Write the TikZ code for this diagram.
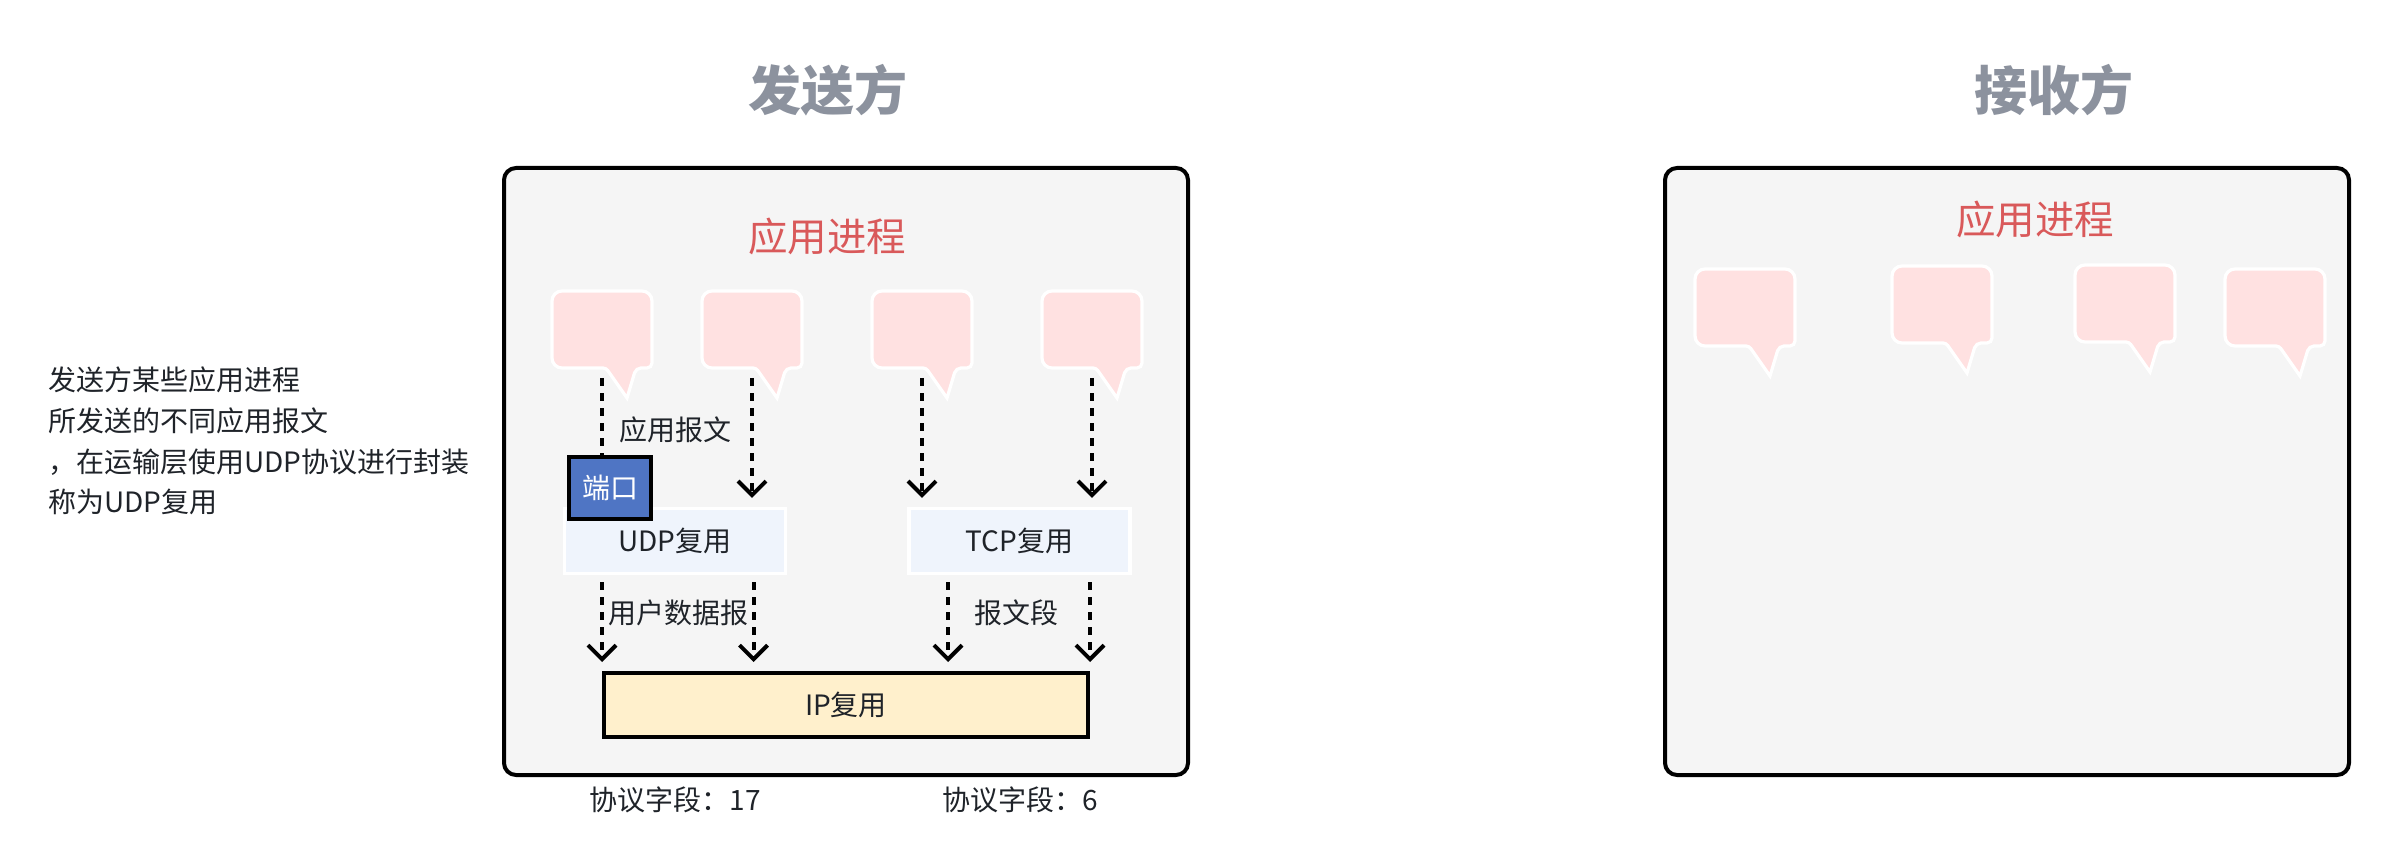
\documentclass[tikz,border=0pt]{standalone}
\usepackage{fontspec}
\setmainfont{Noto Sans CJK SC}
\usetikzlibrary{arrows.meta}
\definecolor{titlegray}{RGB}{140,146,158}
\definecolor{procred}{RGB}{217,89,90}
\definecolor{panelgray}{RGB}{245,245,245}
\definecolor{bubblepink}{RGB}{255,225,225}
\definecolor{muxblue}{RGB}{239,244,252}
\definecolor{portblue}{RGB}{79,117,196}
\definecolor{ipyellow}{RGB}{255,240,204}
\definecolor{inkdark}{RGB}{31,35,41}
\tikzset{
  panel/.style={draw=black,line width=2pt,fill=panelgray,rounded corners=6pt},
  bubble/.style={draw=white,line width=1.6pt,fill=bubblepink,line join=miter},
  muxbox/.style={draw=white,line width=1.6pt,fill=muxblue,inner sep=0pt,minimum width=110.5pt,minimum height=32.5pt},
  flow/.style={line width=2pt,dash pattern=on 4pt off 3.5pt,-{Straight Barb[width=14pt,length=7pt,line width=2pt]}},
  heading/.style={font=\fontsize{26.5}{30}\selectfont\bfseries,text=titlegray},
  proclabel/.style={font=\fontsize{19.75}{24}\selectfont,text=procred}
}
\begin{document}
\begin{tikzpicture}[x=0.5pt,y=-0.5pt,every node/.style={font=\fontsize{14}{17}\selectfont,text=inkdark}]
    \useasboundingbox (0,0) rectangle (2400,866);

    % ── Panels ───────────────────────────────────────────────────────
    \draw[panel] (504,168) rectangle (1188,775);
    \draw[panel] (1665,168) rectangle (2349,775);
    \node[heading] (sendtitle) at (827.5,90.5) {发送方};
    \node[heading] (recvtitle) at (2054,90.5) {接收方};
    \node[proclabel] (sendproc) at (827,236) {应用进程};
    \node[proclabel] (recvproc) at (2035,219) {应用进程};

    % ── Message bubbles ──────────────────────────────────────────────
    \foreach \bx/\by in {552/291,702/291,872/291,1042/291,1695/269,1892/266,2075/265,2225/269} {
      \draw[bubble,shift={(\bx,\by)}] (50,0) [rounded corners=5pt] -- (0,0) -- (0,77)
        [rounded corners=1.5pt] -- (54,77) [sharp corners] -- (75,107)
        [rounded corners=2.5pt] -- (84,77) -- (100,77) [rounded corners=5pt] -- (100,0) -- cycle;
    }

    % ── Multiplexing boxes ───────────────────────────────────────────
    \node[muxbox] (udp) at (675,541) {UDP复用};
    \node[muxbox] (tcp) at (1019.5,541) {TCP复用};
    \node[draw=black,line width=2pt,fill=portblue,text=white,inner sep=0pt,minimum width=41pt,minimum height=31pt] (port) at (610,487.5) {端口};
    \node[draw=black,line width=2pt,fill=ipyellow,inner sep=0pt,minimum width=242pt,minimum height=32pt] (ip) at (846,705) {IP复用};

    % ── Connectors ───────────────────────────────────────────────────
    \coordinate (app1) at (602,378);
    \coordinate (app2) at (752,378);
    \coordinate (app3) at (922,378);
    \coordinate (app4) at (1092,378);
    \coordinate (udpl) at (602,582);
    \coordinate (udpr) at (753.5,582);
    \coordinate (tcpl) at (948,582);
    \coordinate (tcpr) at (1090,582);
    \draw[flow,-] (app1) -- (app1 |- port.north);
    \draw[flow,shorten >=4.5pt] (app2) -- (app2 |- udp.north);
    \draw[flow,shorten >=4.5pt] (app3) -- (app3 |- tcp.north);
    \draw[flow,shorten >=4.5pt] (app4) -- (app4 |- tcp.north);
    \foreach \from in {udpl,udpr,tcpl,tcpr} {
      \draw[flow,shorten >=4.5pt] (\from) -- (\from |- ip.north);
    }

    % ── Labels ───────────────────────────────────────────────────────
    \node (msglabel) at (675,429.5) {应用报文};
    \node (dgramlabel) at (678,613) {用户数据报};
    \node (seglabel) at (1016,613) {报文段};
    \node (udpfield) at (675,800) {协议字段：17};
    \node (tcpfield) at (1020,800) {协议字段：6};
    \node[anchor=west,inner sep=0pt] (note1) at (48,380) {发送方某些应用进程};
    \node[anchor=west,inner sep=0pt] (note2) at (48,421) {所发送的不同应用报文};
    \node[anchor=west,inner sep=0pt] (note3) at (48,462) {，在运输层使用UDP协议进行封装};
    \node[anchor=west,inner sep=0pt] (note4) at (48,502) {称为UDP复用};
\end{tikzpicture}
\end{document}
